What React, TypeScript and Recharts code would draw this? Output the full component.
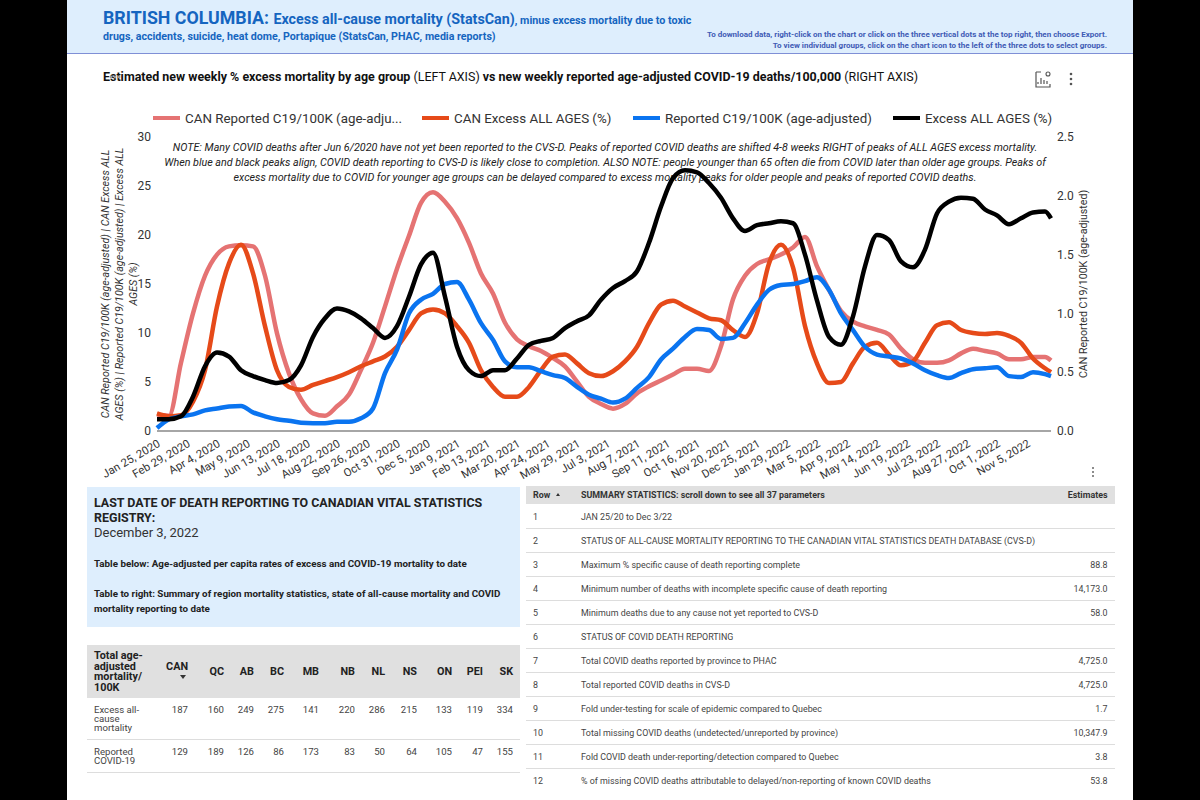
import React from 'react';
import { LineChart, Line, XAxis, YAxis, Legend } from 'recharts';

const weeks = [0,2,4,6,8,10,12,14,16,18,20,22,24,26,28,30,32,34,36,38,40,42,44,46,48,50,52,54,56,58,60,62,64,66,68,70,72,74,76,78,80,82,84,86,88,90,92,94,96,98,100,102,104,106,108,110,112,114,116,118,120,122,124,126,128,130,132,134,136,138,140,142,144,146,148,149];
const tickWeeks = [0,5,10,15,20,25,30,35,40,45,50,55,60,65,70,75,80,85,90,95,100,105,110,115,120,125,130,135,140,145];
const tickLabels = ['Jan 25, 2020','Feb 29, 2020','Apr 4, 2020','May 9, 2020','Jun 13, 2020','Jul 18, 2020','Aug 22, 2020','Sep 26, 2020','Oct 31, 2020','Dec 5, 2020','Jan 9, 2021','Feb 13, 2021','Mar 20, 2021','Apr 24, 2021','May 29, 2021','Jul 3, 2021','Aug 7, 2021','Sep 11, 2021','Oct 16, 2021','Nov 20, 2021','Dec 25, 2021','Jan 29, 2022','Mar 5, 2022','Apr 9, 2022','May 14, 2022','Jun 19, 2022','Jul 23, 2022','Aug 27, 2022','Oct 1, 2022','Nov 5, 2022'];

const canReported = [.14,.13,.58,1.00,1.32,1.50,1.57,1.58,1.57,1.32,.83,.49,.27,.15,.13,.21,.31,.52,.75,1.06,1.38,1.66,1.94,2.03,1.95,
  1.81,1.60,1.34,1.17,.92,.78,.72,.68,.62,.55,.42,.29,.23,.19,.23,.32,.38,.43,.48,.53,.53,.51,.72,1.12,1.32,1.42,1.46,1.50,1.56,
  1.65,1.40,1.20,1.02,.93,.89,.86,.82,.70,.61,.58,.58,.60,.66,.70,.68,.66,.61,.61,.63,.63,.60];
const canExcess = [1.8,1.5,1.6,3,6.2,12.7,17.1,19,16.1,10.7,6.2,4.5,4.2,4.7,5.1,5.5,6,6.6,7.1,7.6,8.6,10.3,12,12.4,12,
  10.7,9,6.2,4.5,3.5,3.5,4.5,6.2,7.6,7.8,6.9,5.9,5.6,6.1,7.1,8.6,11,12.9,13.3,12.7,12.1,11.5,11.3,10.3,9.6,12,17.1,19,16.7,
  10.7,6.9,4.9,5,6.9,8.6,9,7.8,6.7,7.1,9,10.8,11.1,10.3,10,9.9,10,9.7,9,7.4,6.4,6];
const reported = [.3,1.2,1.5,1.7,2.1,2.3,2.5,2.55,1.9,1.5,1.2,1.05,.85,.8,.8,.95,.95,1.3,2.3,5.9,8.3,12,13.4,14,15,
  15.2,13.4,11,9.3,7.1,6.5,6.5,6.1,5.7,5.4,4.5,3.7,3.3,2.9,3.3,4.4,5.5,7.3,8.4,9.6,10.4,10.3,9.4,9.5,11,12.9,14.4,14.9,15,
  15.3,15.7,14.4,12,10.3,8.6,7.8,7.6,7.4,6.9,6.2,5.7,5.4,5.9,6.3,6.4,6.5,5.6,5.5,6,5.8,5.6];
const excess = [1.2,1.2,1.5,3.5,6.6,8,7.6,6.2,5.6,5.2,4.9,5.2,6.7,9.6,11.5,12.5,12.2,11.5,10.5,9.5,10.7,13.7,17,18.2,13.7,
  8.6,6.2,5.6,6.2,6.2,7.4,8.8,9.2,9.5,10.5,11.2,11.8,13.4,14.6,15.3,16.3,19.2,22.9,25.8,26.6,26.4,25.3,23.8,21.7,20.4,21,21.2,21.4,21.2,
  18,13.3,9.6,8.8,11.7,16.8,20,19.5,17.3,16.7,18.5,22.2,23.4,23.8,23.7,22.6,22,21.1,21.7,22.3,22.4,21.7];

const chartData = weeks.map((w, i) => ({ week: w, canReported: canReported[i], canExcess: canExcess[i], reported: reported[i], excess: excess[i] }));

const leftTicks = [0,5,10,15,20,25,30];
const rightTicks = [0,0.5,1,1.5,2,2.5];

const legendPos: Record<string, number> = { 'CAN Reported C19/100K (age-adju...': 153, 'CAN Excess ALL AGES (%)': 422, 'Reported C19/100K (age-adjusted)': 633, 'Excess ALL AGES (%)': 893 };

const provinces = ['CAN','QC','AB','BC','MB','NB','NL','NS','ON','PEI','SK'];
const provinceRight = [188,224,254,284,319,355,385,417,452,483,513];
const excessRates = [187,160,249,275,141,220,286,215,133,119,334];
const reportedRates = [129,189,126,86,173,83,50,64,105,47,155];

const summaryLabels = ['JAN 25/20 to Dec 3/22','STATUS OF ALL-CAUSE MORTALITY REPORTING TO THE CANADIAN VITAL STATISTICS DEATH DATABASE (CVS-D)','Maximum % specific cause of death reporting complete','Minimum number of deaths with incomplete specific cause of death reporting','Minimum deaths due to any cause not yet reported to CVS-D','STATUS OF COVID DEATH REPORTING','Total COVID deaths reported by province to PHAC','Total reported COVID deaths in CVS-D','Fold under-testing for scale of epidemic compared to Quebec','Total missing COVID deaths (undetected/unreported by province)','Fold COVID death under-reporting/detection compared to Quebec','% of missing COVID deaths attributable to delayed/non-reporting of known COVID deaths'];
const summaryValues = ['','','88.8','14,173.0','58.0','','4,725.0','4,725.0','1.7','10,347.9','3.8','53.8'];

const noteLines = ['NOTE: Many COVID deaths after Jun 6/2020 have not yet been reported to the CVS-D. Peaks of reported COVID deaths are shifted 4-8 weeks RIGHT of peaks of ALL AGES excess mortality.','When blue and black peaks align, COVID death reporting to CVS-D is likely close to completion. ALSO NOTE: people younger than 65 often die from COVID later than older age groups. Peaks of','excess mortality due to COVID for younger age groups can be delayed compared to excess mortality peaks for older people and peaks of reported COVID deaths.'];
const leftTitle = ['CAN Reported C19/100K (age-adjusted) | CAN Excess ALL','AGES (%) | Reported C19/100K (age-adjusted) | Excess ALL','AGES (%)'];
const rightTitle = 'CAN Reported C19/100K (age-adjusted)';

const abs = (x: number, y: number, extra: React.CSSProperties = {}): React.CSSProperties => ({ position: 'absolute', left: x, top: y, whiteSpace: 'nowrap', ...extra });
const rightAt = (x: number, y: number, extra: React.CSSProperties = {}): React.CSSProperties => ({ position: 'absolute', right: 1200 - x, top: y, whiteSpace: 'nowrap', ...extra });

const legendContent = (props: any) => (
  <div style={{ position: 'relative', height: 0 }}>
    {(props.payload || []).map((p: any) => (
      <div key={p.value} style={{ position: 'absolute', left: legendPos[p.value], top: 109, height: 18, display: 'flex', alignItems: 'center', whiteSpace: 'nowrap', fontSize: 13.35, color: '#333' }}>
        <span style={{ display: 'inline-block', width: 27, height: 4, background: p.color, marginRight: 5 }} />
        {p.value}
      </div>
    ))}
  </div>
);

const leftTitleLabel = () => (
  <text fontSize={10.7} fontStyle="italic" fill="#333" textAnchor="middle" transform="translate(109,284) rotate(-90)">
    {leftTitle.map((l, i) => <tspan key={i} x={0} dy={i === 0 ? 0 : 14}>{l}</tspan>)}
  </text>
);
const rightTitleLabel = () => (
  <text fontSize={10.6} fill="#333" textAnchor="middle" transform="translate(1087,284) rotate(-90)">{rightTitle}</text>
);

export default function App() {
  return (
    <div style={{ position: 'fixed', left: 0, top: 0, width: 1200, height: 800, overflow: 'hidden', background: '#000', fontFamily: 'Roboto, sans-serif' }}>
      <div style={{ position: 'absolute', left: 67, top: 0, width: 1066, height: 800, background: '#fff' }} />
      <div style={{ position: 'absolute', left: 67, top: 0, width: 1066, height: 53, background: '#deeefd', borderBottom: '1px solid #7f8fd6' }} />
      <div style={abs(103, 7, { color: '#1565c0', fontWeight: 700, lineHeight: '22px' })}>
        <span style={{ fontSize: 17.8 }}>BRITISH COLUMBIA</span>
        <span style={{ fontSize: 17.8 }}>: </span>
        <span style={{ fontSize: 14.3 }}>Excess all-cause mortality (StatsCan)</span>
        <span style={{ fontSize: 10.75 }}>, minus excess mortality due to toxic</span>
      </div>
      <div style={abs(103, 29, { color: '#1565c0', fontWeight: 700, fontSize: 10.66, lineHeight: '16px' })}>drugs, accidents, suicide, heat dome, Portapique (StatsCan, PHAC, media reports)</div>
      <div style={rightAt(1107, 29, { color: '#3f5bb5', fontWeight: 700, fontSize: 8, lineHeight: '12px' })}>To download data, right-click on the chart or click on the three vertical dots at the top right, then choose Export.</div>
      <div style={rightAt(1107, 40, { color: '#3f5bb5', fontWeight: 700, fontSize: 8, lineHeight: '12px' })}>To view individual groups, click on the chart icon to the left of the three dots to select groups.</div>

      <div style={abs(103, 69, { fontSize: 12.45, color: '#111', lineHeight: '16px' })}>
        <b>Estimated new weekly % excess mortality by age group</b> (LEFT AXIS) <b>vs new weekly reported age-adjusted COVID-19 deaths/100,000</b> (RIGHT AXIS)
      </div>
      <svg style={{ position: 'absolute', left: 109, top: 74 }} width={12} height={6}>
        <circle cx={2} cy={3} r={1.4} fill="#999" /><circle cx={6} cy={3} r={1.4} fill="#999" /><circle cx={10} cy={3} r={1.4} fill="#999" />
      </svg>
      <svg style={{ position: 'absolute', left: 1035, top: 70 }} width={46} height={20}>
        <path d="M1 2V17H15V14M1 2H6M3 14V12M6 14V8M9 14V10M12 14V11" stroke="#555" strokeWidth={1.2} fill="none" />
        <circle cx={13} cy={4} r={2} stroke="#555" strokeWidth={1.1} fill="none" />
        <circle cx={36} cy={4} r={1.3} fill="#555" /><circle cx={36} cy={9} r={1.3} fill="#555" /><circle cx={36} cy={14} r={1.3} fill="#555" />
      </svg>

      {noteLines.map((l, i) => (
        <div key={i} style={{ position: 'absolute', left: 158, width: 894, top: 141 + i * 15, textAlign: 'center', whiteSpace: 'nowrap', fontSize: 10.74, fontStyle: 'italic', color: '#222', lineHeight: '14px' }}>{l}</div>
      ))}

      <div style={{ position: 'absolute', left: 0, top: 0 }}>
        <LineChart width={1200} height={800} data={chartData} margin={{ top: 137, left: 97, right: 89, bottom: 309 }} style={{ fontFamily: 'Roboto, sans-serif' }}>
          <XAxis dataKey="week" type="number" domain={[0, 149]} ticks={tickWeeks} interval={0} height={60}
            tickFormatter={(w: number) => tickLabels[tickWeeks.indexOf(w)]}
            tick={{ fontSize: 11.3, fill: '#333', angle: -30, textAnchor: 'end' } as any}
            tickLine={false} axisLine={{ stroke: '#888', strokeWidth: 1.5 }} tickMargin={2} />
          <YAxis yAxisId="left" domain={[0, 30]} ticks={leftTicks} width={60} tick={{ fontSize: 12, fill: '#333' }} tickLine={false} axisLine={false} tickMargin={0} label={leftTitleLabel as any} />
          <YAxis yAxisId="right" orientation="right" domain={[0, 2.5]} ticks={rightTicks} width={60} tickFormatter={(v: number) => v.toFixed(1)} tick={{ fontSize: 12, fill: '#333' }} tickLine={false} axisLine={false} tickMargin={0} label={rightTitleLabel as any} />
          <Legend content={legendContent} wrapperStyle={{ position: 'absolute', left: 0, top: 0, width: 1200, height: 0 }} />
          <Line yAxisId="right" dataKey="canReported" name="CAN Reported C19/100K (age-adju..." stroke="#e57373" strokeWidth={4.5} dot={false} type="monotone" isAnimationActive={false} />
          <Line yAxisId="left" dataKey="canExcess" name="CAN Excess ALL AGES (%)" stroke="#e64a19" strokeWidth={4.5} dot={false} type="monotone" isAnimationActive={false} />
          <Line yAxisId="left" dataKey="reported" name="Reported C19/100K (age-adjusted)" stroke="#0a74f0" strokeWidth={4.5} dot={false} type="monotone" isAnimationActive={false} />
          <Line yAxisId="left" dataKey="excess" name="Excess ALL AGES (%)" stroke="#000" strokeWidth={4.5} dot={false} type="monotone" isAnimationActive={false} />
        </LineChart>
      </div>

      <svg style={{ position: 'absolute', left: 1090, top: 466 }} width={6} height={14}>
        <circle cx={3} cy={2} r={1} fill="#666" /><circle cx={3} cy={6} r={1} fill="#666" /><circle cx={3} cy={10} r={1} fill="#666" />
      </svg>

      {/* left info panel */}
      <div style={{ position: 'absolute', left: 87, top: 487, width: 433, height: 140, background: '#deeefd' }} />
      <div style={abs(94, 495, { fontSize: 12.44, fontWeight: 700, color: '#222', lineHeight: '15px' })}>LAST DATE OF DEATH REPORTING TO CANADIAN VITAL STATISTICS<br />REGISTRY:</div>
      <div style={abs(94, 525, { fontSize: 13, color: '#333', lineHeight: '15px' })}>December 3, 2022</div>
      <div style={abs(94, 556, { fontSize: 9.8, fontWeight: 700, color: '#222', lineHeight: '15px' })}>Table below: Age-adjusted per capita rates of excess and COVID-19 mortality to date</div>
      <div style={abs(94, 586, { fontSize: 9.8, fontWeight: 700, color: '#222', lineHeight: '15px' })}>Table to right: Summary of region mortality statistics, state of all-cause mortality and COVID</div>
      <div style={abs(94, 601, { fontSize: 9.8, fontWeight: 700, color: '#222', lineHeight: '15px' })}>mortality reporting to date</div>

      {/* province table */}
      <div style={{ position: 'absolute', left: 87, top: 645, width: 433, height: 53, background: '#e0e0e0' }} />
      <div style={abs(94, 651, { fontSize: 10.8, fontWeight: 700, color: '#222', lineHeight: '10.7px' })}>Total age-<br />adjusted<br />mortality/<br />100K</div>
      {provinces.map((p, i) => (
        <div key={p} style={rightAt(provinceRight[i], i === 0 ? 660 : 665, { fontSize: 10.8, fontWeight: 700, color: '#222', lineHeight: '14px' })}>{p}</div>
      ))}
      <svg style={{ position: 'absolute', left: 180, top: 675 }} width={6} height={5}><path d="M0 0H6L3 4Z" fill="#333" /></svg>
      <div style={abs(94, 705, { fontSize: 9.6, color: '#444', lineHeight: '9px' })}>Excess all-<br />cause<br />mortality</div>
      <div style={abs(94, 747, { fontSize: 9.6, color: '#444', lineHeight: '9px' })}>Reported<br />COVID-19</div>
      {provinces.map((p, i) => (
        <React.Fragment key={p}>
          <div style={rightAt(provinceRight[i], 704, { fontSize: 9.6, color: '#444', lineHeight: '12px' })}>{excessRates[i]}</div>
          <div style={rightAt(provinceRight[i], 746, { fontSize: 9.6, color: '#444', lineHeight: '12px' })}>{reportedRates[i]}</div>
        </React.Fragment>
      ))}
      <div style={{ position: 'absolute', left: 87, top: 739, width: 433, height: 1, background: '#ddd' }} />
      <div style={{ position: 'absolute', left: 87, top: 772, width: 433, height: 1, background: '#ddd' }} />

      {/* summary table */}
      <div style={{ position: 'absolute', left: 526, top: 486, width: 589, height: 18, background: '#e0e0e0' }} />
      <div style={abs(533, 489, { fontSize: 8.9, fontWeight: 700, color: '#333', lineHeight: '12px' })}>Row</div>
      <svg style={{ position: 'absolute', left: 556, top: 493 }} width={5} height={4}><path d="M0 3H4L2 0Z" fill="#333" /></svg>
      <div style={abs(581, 489, { fontSize: 8.9, fontWeight: 700, color: '#333', lineHeight: '12px' })}>SUMMARY STATISTICS: scroll down to see all 37 parameters</div>
      <div style={rightAt(1107.5, 489, { fontSize: 8.9, fontWeight: 700, color: '#333', lineHeight: '12px' })}>Estimates</div>
      {summaryLabels.map((l, i) => (
        <React.Fragment key={i}>
          <div style={abs(533, 511 + i * 24, { fontSize: 8.9, color: '#444', lineHeight: '12px' })}>{i + 1}</div>
          <div style={abs(581, 511 + i * 24, { fontSize: 8.9, color: '#444', lineHeight: '12px' })}>{l}</div>
          <div style={rightAt(1107.5, 511 + i * 24, { fontSize: 8.9, color: '#444', lineHeight: '12px' })}>{summaryValues[i]}</div>
          <div style={{ position: 'absolute', left: 526, top: 528 + i * 24, width: 589, height: 1, background: '#ddd', display: i === 11 ? 'none' : 'block' }} />
        </React.Fragment>
      ))}
    </div>
  );
}
